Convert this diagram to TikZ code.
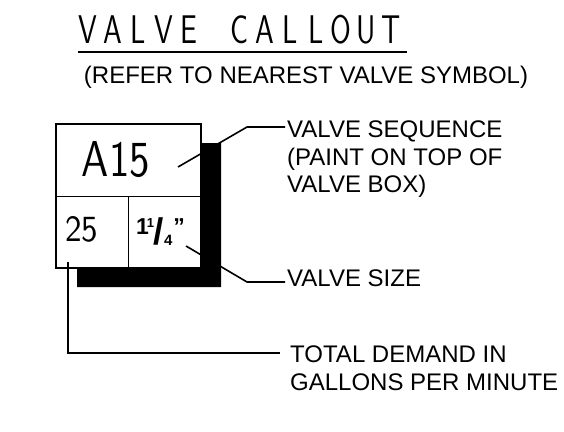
\documentclass[tikz,border=0pt]{standalone}
\usepackage{fontspec}
\usepackage{graphicx}
\setmainfont{Liberation Sans}
\usepackage{tikz}

\begin{document}
\begin{tikzpicture}[x=1pt,y=-1pt]
\tikzstyle{every node}+=[inner sep=0pt]
\tikzstyle{note}=[font=\fontsize{24}{27.5}\selectfont, align=left]
\tikzstyle{cad}=[font=\fontsize{40}{40}\sffamily, anchor=base]
\tikzstyle{leader}=[line width=1.6pt]
\useasboundingbox (0,0) rectangle (564,431);
\foreach \ch [count=\i from 0] in {V,A,L,V,E,,C,A,L,L,O,U,T}
  \node (title\i) [cad] at ({88+25.3*\i},43) {\scalebox{0.75}[1]{\ch}};
\draw [line width=2pt] (78,52) -- (407,52);
\node (refer) [note] at (306,77) {(REFER TO NEAREST VALVE SYMBOL)};
\node (box) [draw, line width=2pt, minimum width=145pt, minimum height=144pt] at (128.5,196) {};
\draw (box.west |- 0,196) -- (box.east |- 0,196);
\draw (128,196) -- (box.south -| 128,0);
\node (seq) at (116,160) {\resizebox{68pt}{35pt}{\sffamily A15}};
\node (gpm) at (81.5,229.5) {\resizebox{33pt}{25pt}{\sffamily 25}};
\node (size) [anchor=base west] at (136,234) {\bfseries\fontsize{23}{23}\selectfont
  1\kern-2pt\raisebox{7pt}{\fontsize{13}{13}\selectfont 1}\kern-0.5pt%
  \raisebox{-10pt}{\fontsize{37}{37}\selectfont /}%
  \raisebox{-11pt}{\fontsize{15}{15}\selectfont 4}\kern1pt"};
\coordinate (seqtip) at (178,167);
\coordinate (sizetip) at (186,246);
\coordinate (gpmtip) at (68,262);
\node (seqtext) [note, anchor=north west] at (287,121) {VALVE SEQUENCE\\(PAINT ON TOP OF\\VALVE BOX)};
\node (sizetext) [note, anchor=west] at (287,278) {VALVE SIZE};
\node (gpmtext) [note, anchor=north west] at (290,346) {TOTAL DEMAND IN\\GALLONS PER MINUTE};
\draw [leader, shorten >=2pt] (seqtip) -- (247,127) -- (seqtext.west |- 0,127);
\draw [leader, shorten >=2pt] (sizetip) -- (247,282) -- (sizetext.west |- 0,282);
\draw [leader, shorten >=10pt] (gpmtip) -- (68,353) -- (gpmtext.west |- 0,353);
\fill (202,143) -- (221,143) -- (221,287) -- (77,287) -- (77,269) -- (202,269) -- cycle;
\end{tikzpicture}
\end{document}
